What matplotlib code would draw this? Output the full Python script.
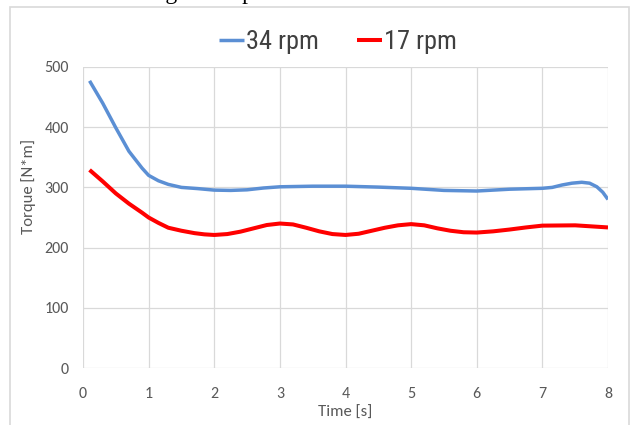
import matplotlib
matplotlib.use("Agg")
import matplotlib.pyplot as plt
from matplotlib.patches import Rectangle

t_34 = [0.1, 0.3, 0.5, 0.7, 0.9, 1.0, 1.15, 1.3, 1.5, 1.75, 2.0, 2.25, 2.5, 2.75,
        3.0, 3.5, 4.0, 4.5, 5.0, 5.5, 6.0, 6.5, 7.0, 7.15, 7.3, 7.45, 7.6, 7.72,
        7.83, 7.92, 8.0]
torque_34 = [477, 440, 399, 360, 332, 320, 311, 305, 300, 298, 295.5, 295, 296, 299,
             301, 302, 302, 300.5, 298.5, 295, 294, 297, 298.5, 300, 304, 307, 308.5, 307,
             301, 292, 280]

t_17 = [0.1, 0.3, 0.5, 0.7, 0.9, 1.0, 1.15, 1.3, 1.5, 1.7, 1.85, 2.0, 2.2, 2.4,
        2.6, 2.8, 3.0, 3.2, 3.4, 3.6, 3.8, 4.0, 4.2, 4.4, 4.6, 4.8, 5.0, 5.2,
        5.4, 5.6, 5.8, 6.0, 6.25, 6.5, 6.75, 7.0, 7.5, 8.0]
torque_17 = [329, 310, 290, 273, 258, 250, 241, 233, 228, 224, 222, 221, 222.5, 226.5,
             232, 237.5, 240, 238.5, 233, 227, 222.5, 221, 223, 228, 233, 237, 239, 237,
             232, 228, 225.5, 225, 227, 230, 233.5, 236.5, 237, 233.5]

series_labels = ["34 rpm", "17 rpm"]
x_ticks = [0, 1, 2, 3, 4, 5, 6, 7, 8]
y_ticks = [0, 100, 200, 300, 400, 500]
x_title = "Time [s]"
y_title = "Torque [N*m]"
caption = "for each of the agitator speeds."

plt.rcParams['font.family'] = ['Carlito', 'DejaVu Sans']

fig = plt.figure(figsize=(6.33, 4.25), dpi=100)
fig.patch.set_facecolor('white')

# outer chart frame
fig.patches.append(Rectangle((10 / 633, -0.05), 619 / 633, 1 - 7 / 425 + 0.05,
                             transform=fig.transFigure, fill=False,
                             edgecolor='#d9d9d9', linewidth=1.2, zorder=0))

# caption of the document, cropped at the very top
fig.text(12 / 633, 1 + 1.0 / 425, caption, family=['Liberation Serif', 'DejaVu Serif'],
         fontsize=17, ha='left', va='baseline', color='black')

ax = fig.add_axes([83 / 633, 1 - 368 / 425, (608 - 83) / 633, (368 - 67) / 425])
ax.plot(t_34, torque_34, color='#5b8fd4', linewidth=2.5, label=series_labels[0],
        solid_capstyle='butt')
ax.plot(t_17, torque_17, color='#ff0000', linewidth=2.9, label=series_labels[1],
        solid_capstyle='butt')

ax.set_xlim(0, 8)
ax.set_ylim(0, 500)
ax.set_xticks(x_ticks)
ax.set_yticks(y_ticks)
ax.grid(True, color='#d9d9d9', linewidth=0.9)
ax.set_axisbelow(True)
for s in ax.spines.values():
    s.set_visible(False)
ax.tick_params(length=0, colors='#595959', labelsize=11.5)
ax.tick_params(axis='x', pad=14)
ax.tick_params(axis='y', pad=10)
ax.set_xlabel(x_title, color='#595959', fontsize=12, labelpad=3)
ax.set_ylabel(y_title, color='#595959', fontsize=12)
ax.yaxis.set_label_coords((36 - 83) / 525, (368 - 186) / 301)

fig.legend(loc='center', bbox_to_anchor=(338 / 633, 1 - 42 / 425), ncol=2,
           frameon=False, prop={'family': ['Roboto Condensed', 'Carlito'], 'size': 19},
           handlelength=0.95, handletextpad=0.08, columnspacing=1.45,
           labelcolor='#404040')

fig.savefig("out.png", dpi=100)
